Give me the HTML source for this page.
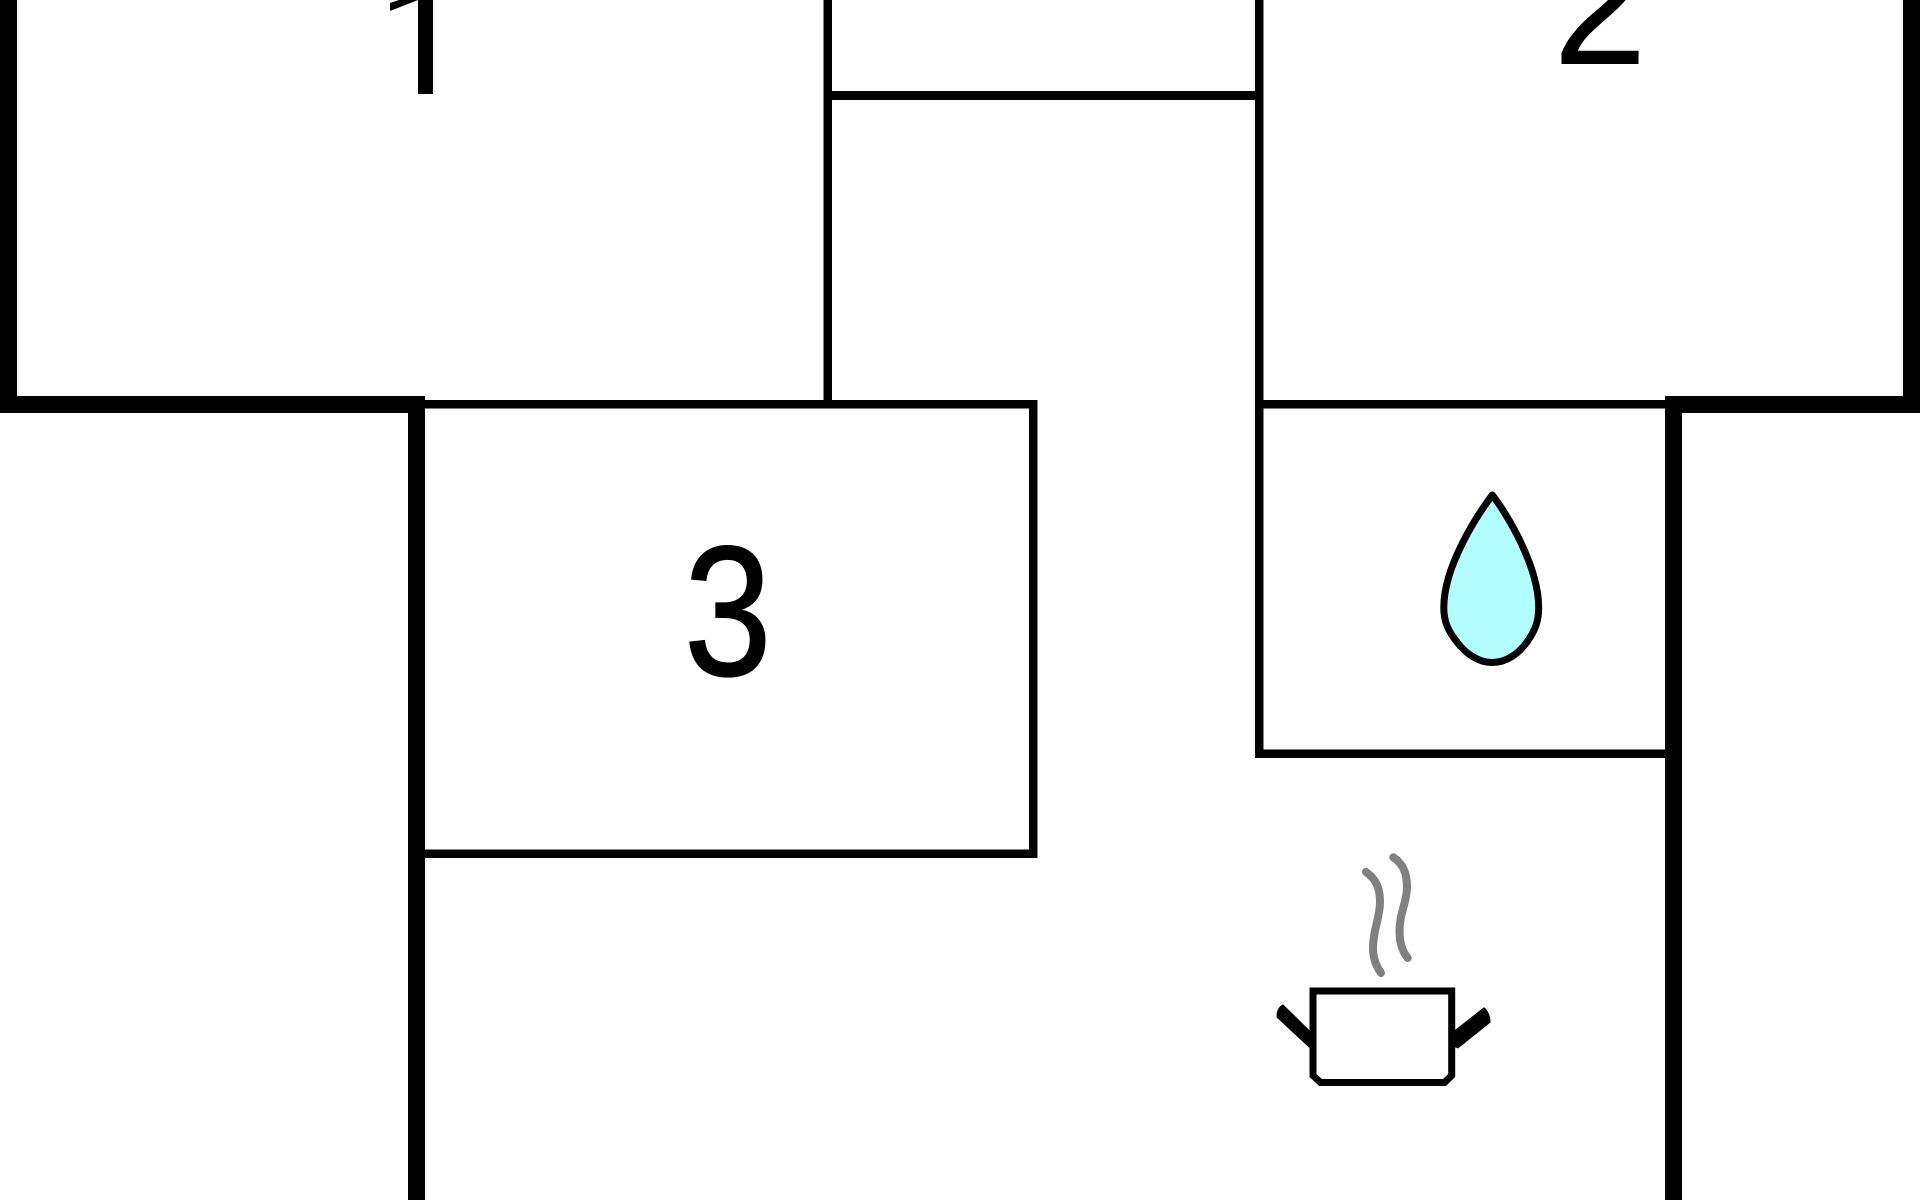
<!DOCTYPE html>
<html>
<head>
<meta charset="utf-8">
<style>
html,body{margin:0;padding:0;background:#fff;width:1920px;height:1200px;overflow:hidden}
svg{display:block}
text{font-family:"Liberation Sans",sans-serif;fill:#000}
</style>
</head>
<body>
<svg width="1920" height="1200" viewBox="0 0 1920 1200" xmlns="http://www.w3.org/2000/svg">
<defs>
<clipPath id="stem"><rect x="418" y="0" width="15" height="94"/></clipPath>
</defs>
<rect width="1920" height="1200" fill="#fff"/>
<!-- digits -->
<g clip-path="url(#stem)"><text x="373" y="94" font-size="178">1</text></g>
<polygon points="390,11 390,3 399,0 418,0" fill="#000"/>
<text transform="translate(1553 64) scale(0.95 1)" font-size="178">2</text>
<text transform="translate(684 675) scale(0.886 1.04)" font-size="178" stroke="#000" stroke-width="1.5">3</text>
<!-- thick walls -->
<g fill="#000">
<rect x="0" y="0" width="17" height="413"/>
<rect x="0" y="396" width="425" height="17"/>
<rect x="408" y="396" width="17" height="804"/>
<rect x="1903" y="0" width="17" height="413"/>
<rect x="1665" y="396" width="255" height="17"/>
<rect x="1665" y="396" width="17" height="804"/>
<!-- thin walls -->
<rect x="425" y="400" width="612.500" height="8.500"/>
<rect x="1255" y="400" width="410" height="8.500"/>
<rect x="823.500" y="0" width="8.500" height="400"/>
<rect x="832" y="91" width="423" height="9"/>
<rect x="1255" y="0" width="8.500" height="758"/>
<rect x="1255" y="749.500" width="410" height="8.500"/>
<rect x="1029" y="400" width="8.500" height="458"/>
<rect x="425" y="849.500" width="612.500" height="8.500"/>
</g>
<!-- drop -->
<path d="M1492.300 495 C1478 514 1443.500 566 1443.800 608 C1443.800 621 1448 631 1457 642 C1465 653 1478 662.500 1492 662.500 C1507 662.500 1519 653 1527 642 C1535 631 1538.700 621 1538.700 608 C1538.700 566 1507 514 1492.300 495 Z" fill="#b3ffff" stroke="#000" stroke-width="7" stroke-linejoin="round"/>
<!-- steam -->
<g fill="none" stroke="#808080" stroke-width="8" stroke-linecap="round">
<path d="M1366 872 C1376 879 1380 888 1380 902 C1380 918 1373 930 1373 948 C1373 958 1376 966 1381 973"/>
<path d="M1393.300 857.300 C1403 864 1407 873 1407 887 C1407 902 1399.500 913 1399.500 931 C1399.500 942 1402 951 1407.700 958"/>
</g>
<!-- pot -->
<path d="M1313 991 H1451.700 V1075.500 L1444.500 1082.500 H1320.500 L1313 1075.500 Z" fill="#fff" stroke="#000" stroke-width="7" stroke-linejoin="miter"/>
<path d="M1283 1004.200 C1278 1007 1276 1012 1276.700 1017.500 L1310 1048.500 L1316 1046 L1316 1036.700 Z" fill="#000"/>
<path d="M1484 1007.200 C1488 1010 1490.500 1016 1490.500 1022.500 L1458 1048.500 L1452 1046 L1455 1030 Z" fill="#000"/>
</svg>
</body>
</html>
